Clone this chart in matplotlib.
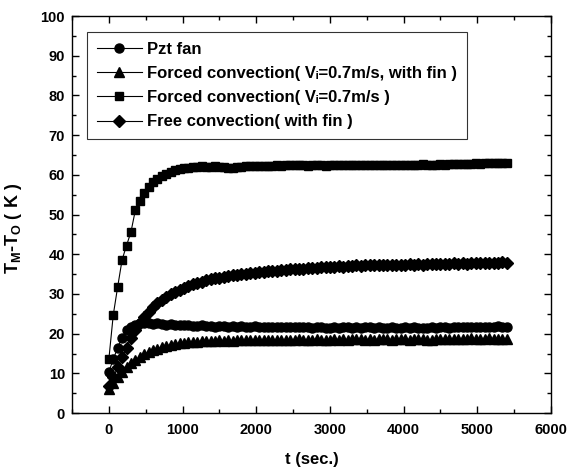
import numpy as np
import matplotlib
matplotlib.use("Agg")
import matplotlib.pyplot as plt
from matplotlib.ticker import MultipleLocator

# time axis (s), sampled every 60 s from 0 to 5400
t_start, t_end, t_step = 0, 5400, 60
time = np.arange(t_start, t_end + 1, t_step)

pzt_fan = [
    10.4, 13.5, 16.5, 19.0, 20.8, 21.8, 22.3, 22.6, 22.7, 22.6,
    22.5, 22.6, 22.4, 22.3, 22.4, 22.2, 22.3, 22.1, 22.2, 22.0,
    21.9, 22.1, 21.9, 22.0, 21.8, 22.0, 21.9, 21.7, 21.9, 21.8,
    21.9, 21.7, 21.8, 21.9, 21.7, 21.8, 21.6, 21.8, 21.7, 21.8,
    21.6, 21.8, 21.7, 21.6, 21.8, 21.7, 21.5, 21.7, 21.6, 21.4,
    21.5, 21.6, 21.5, 21.7, 21.6, 21.5, 21.6, 21.5, 21.7, 21.6,
    21.5, 21.6, 21.4, 21.5, 21.6, 21.5, 21.4, 21.6, 21.5, 21.6,
    21.5, 21.4, 21.5, 21.6, 21.5, 21.6, 21.7, 21.5, 21.6, 21.7,
    21.6, 21.7, 21.6, 21.8, 21.7, 21.6, 21.8, 21.7, 21.9, 21.8, 21.6,
]

forced_fin = [
    6.0, 7.5, 9.0, 10.3, 11.5, 12.5, 13.4, 14.1, 14.8, 15.3,
    15.8, 16.2, 16.6, 16.9, 17.2, 17.4, 17.6, 17.7, 17.9, 18.0,
    18.0, 18.1, 18.2, 18.1, 18.2, 18.3, 18.2, 18.3, 18.2, 18.4,
    18.3, 18.4, 18.3, 18.4, 18.5, 18.4, 18.3, 18.4, 18.5, 18.4,
    18.5, 18.4, 18.5, 18.6, 18.5, 18.4, 18.5, 18.6, 18.5, 18.4,
    18.5, 18.6, 18.5, 18.6, 18.5, 18.6, 18.7, 18.6, 18.5, 18.6,
    18.5, 18.6, 18.7, 18.6, 18.5, 18.6, 18.7, 18.6, 18.5, 18.6,
    18.7, 18.6, 18.5, 18.4, 18.6, 18.7, 18.6, 18.7, 18.6, 18.7,
    18.6, 18.7, 18.8, 18.7, 18.6, 18.7, 18.8, 18.7, 18.6, 18.7, 18.6,
]

forced = [
    13.5, 24.7, 31.8, 38.6, 42.2, 45.6, 51.1, 53.3, 55.4, 57.0,
    58.3, 58.9, 59.7, 60.3, 60.8, 61.2, 61.5, 61.7, 61.8, 61.9,
    62.0, 62.1, 61.9, 62.0, 62.1, 61.9, 62.0, 61.8, 61.7, 61.9,
    62.0, 62.1, 62.2, 62.1, 62.2, 62.3, 62.2, 62.3, 62.4, 62.3,
    62.4, 62.5, 62.4, 62.5, 62.4, 62.3, 62.4, 62.5, 62.4, 62.3,
    62.4, 62.5, 62.6, 62.5, 62.4, 62.5, 62.6, 62.5, 62.4, 62.5,
    62.6, 62.5, 62.6, 62.5, 62.4, 62.5, 62.6, 62.5, 62.6, 62.5,
    62.6, 62.7, 62.6, 62.5, 62.6, 62.7, 62.6, 62.7, 62.8, 62.7,
    62.8, 62.7, 62.8, 62.9, 62.8, 62.9, 63.0, 62.9, 63.0, 63.1, 62.9,
]

free_fin = [
    6.8, 9.0, 11.5, 14.0, 16.5, 18.8, 20.8, 22.7, 24.2, 25.5,
    26.6, 27.6, 28.4, 29.2, 29.9, 30.5, 31.0, 31.5, 32.0, 32.4,
    32.8, 33.1, 33.4, 33.7, 33.9, 34.1, 34.3, 34.5, 34.7, 34.8,
    35.0, 35.1, 35.3, 35.4, 35.5, 35.6, 35.7, 35.8, 35.9, 36.0,
    36.1, 36.2, 36.3, 36.4, 36.4, 36.5, 36.6, 36.6, 36.7, 36.8,
    36.8, 36.9, 37.0, 36.9, 37.1, 37.1, 37.2, 37.1, 37.2, 37.2,
    37.3, 37.3, 37.2, 37.3, 37.4, 37.3, 37.4, 37.3, 37.5, 37.4,
    37.5, 37.4, 37.5, 37.6, 37.5, 37.6, 37.5, 37.6, 37.7, 37.6,
    37.7, 37.6, 37.7, 37.8, 37.7, 37.8, 37.9, 37.8, 37.9, 38.0, 37.9,
]

labels = [
    "Pzt fan",
    "Forced convection( V\u1d62=0.7m/s, with fin )",
    "Forced convection( V\u1d62=0.7m/s )",
    "Free convection( with fin )",
]

plt.rcParams['font.family'] = ['Liberation Sans', 'DejaVu Sans']
plt.rcParams['mathtext.fontset'] = 'custom'
plt.rcParams['mathtext.rm'] = 'Liberation Sans:bold'
plt.rcParams['mathtext.it'] = 'Liberation Sans:bold'
plt.rcParams['mathtext.bf'] = 'Liberation Sans:bold'
plt.rcParams['mathtext.default'] = 'bf'

fig = plt.figure(figsize=(5.74, 4.71), dpi=100)
ax = fig.add_axes([0.1254, 0.123, 0.8346, 0.843])

series = [pzt_fan, forced_fin, forced, free_fin]
markers = ['o', '^', 's', 'D']
msizes = [6.5, 7.5, 6.0, 6.0]
for ys, m, ms, lab in zip(series, markers, msizes, labels):
    ax.plot(time, ys, color='black', lw=0.8, marker=m, ms=ms,
            mfc='black', mec='black', label=lab)

ax.set_xlim(-500, 6000)
ax.set_ylim(0, 100)
ax.xaxis.set_major_locator(MultipleLocator(1000))
ax.xaxis.set_minor_locator(MultipleLocator(500))
ax.yaxis.set_major_locator(MultipleLocator(10))
ax.yaxis.set_minor_locator(MultipleLocator(5))
ax.tick_params(which='both', direction='in', top=True, right=True,
               labelsize=10.5, width=1.0, colors='black')
ax.tick_params(which='major', length=5)
ax.tick_params(which='minor', length=3)
ax.tick_params(axis='x', which='major', pad=7)
ax.tick_params(axis='y', which='major', pad=5)
for lab in ax.get_xticklabels() + ax.get_yticklabels():
    lab.set_fontweight('bold')
for s in ax.spines.values():
    s.set_linewidth(1.0)

ax.set_xlabel("t (sec.)", fontsize=12, fontweight='bold')
ax.xaxis.set_label_coords(0.5, -0.098)
ax.set_ylabel(r"$\mathbf{T_{M}\text{-}T_{O}\ (\ K\ )}$", fontsize=13)
ax.yaxis.set_label_coords(-0.1, 0.466)

leg = ax.legend(loc='upper left', bbox_to_anchor=(0.031, 0.96), frameon=True,
                fancybox=False, edgecolor='black',
                handlelength=2.7, handletextpad=0.3, borderpad=0.6,
                labelspacing=0.55, borderaxespad=0,
                prop={'weight': 'bold', 'size': 12})
leg.get_frame().set_linewidth(0.8)

fig.savefig("out.png", dpi=100)
